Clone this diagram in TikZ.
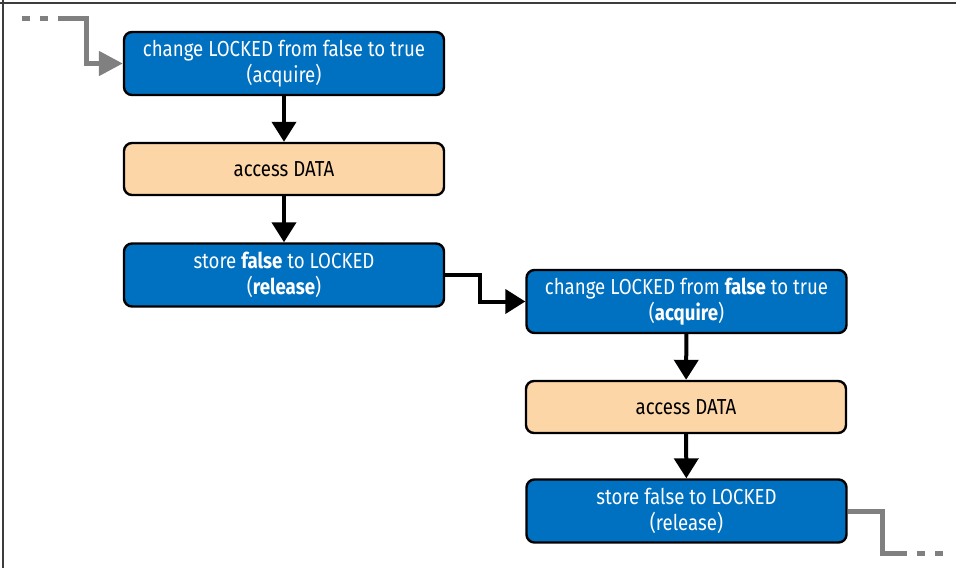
\documentclass[tikz,border=0pt]{standalone}
\usepackage{fontspec}
\setmainfont{Fira Sans}[FakeStretch=0.86]
\usetikzlibrary{arrows.meta}
\definecolor{lockblue}{RGB}{0,112,192}
\definecolor{datapeach}{RGB}{252,214,166}
\definecolor{flowgray}{RGB}{128,128,128}
\definecolor{framegray}{RGB}{60,60,60}
\tikzset{
  stepbox/.style={draw=black, line width=2.4pt, rounded corners=8pt,
    minimum width=320pt, inner sep=0pt, align=center,
    font=\fontsize{21.7}{25.5}\selectfont},
  lockbox/.style={stepbox, fill=lockblue, text=white, minimum height=63pt},
  databox/.style={stepbox, fill=datapeach, text=black, minimum height=52pt},
  flow/.style={draw=black, line width=4pt,
    -{Triangle[width=24pt,length=20pt]}},
  flowgrey/.style={draw=flowgray, line width=5pt},
  flowgreyarrow/.style={flowgrey, -{Triangle[width=24pt,length=24pt]}},
  flowdash/.style={flowgrey, dash pattern=on 8pt off 10pt}
}
\begin{document}
\begin{tikzpicture}[x=1pt, y=-1pt]
  \useasboundingbox (0,0) rectangle (956,568);
  % frame edges
  \draw[framegray, line width=2pt] (0,3) -- (956,3);
  \draw[framegray, line width=2pt] (3,0) -- (3,568);

  % first critical section
  \node[lockbox] (acq1) at (284,63.5) {change LOCKED from false to true\\(acquire)};
  \node[databox] (data1) at (284,169) {access DATA};
  \node[lockbox] (rel1) at (284,275) {store \textbf{false} to LOCKED\\(\textbf{release})};

  % second critical section
  \node[lockbox] (acq2) at (686.5,301.5) {change LOCKED from \textbf{false} to true\\(\textbf{acquire})};
  \node[databox] (data2) at (686,407) {access DATA};
  \node[lockbox] (rel2) at (686.5,511) {store false to LOCKED\\(release)};

  % incoming flow
  \coordinate (inStart) at (22,18);
  \coordinate (inSolid) at (61,18);
  \coordinate (inBend) at (86,18);
  \draw[flowdash] (inStart) -- (inSolid);
  \draw[flowgreyarrow] (inSolid) -- (inBend) |- (acq1);

  % vertical steps
  \draw[flow] (acq1) -- (data1);
  \draw[flow] (data1) -- (rel1);
  \draw[flow] (acq2) -- (data2);
  \draw[flow] (data2) -- (rel2);

  % hand-over between sections
  \coordinate (hand) at (480,275);
  \draw[flow] (rel1.east) -- (hand) |- (acq2);

  % outgoing flow
  \coordinate (outBend) at (882,553);
  \coordinate (outSolid) at (905,553);
  \coordinate (outEnd) at (945,553);
  \draw[flowgrey] (rel2.east) -| (outBend) -- (outSolid);
  \draw[flowgrey, dash pattern=on 8pt off 10pt, dash phase=-12pt] (outSolid) -- (outEnd);
\end{tikzpicture}
\end{document}
